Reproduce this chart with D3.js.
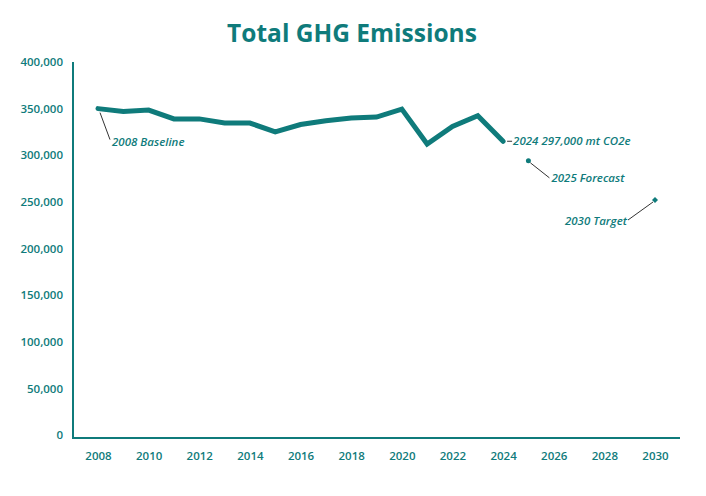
<!DOCTYPE html>
<html>
<head>
<meta charset="utf-8">
<script src="https://cdn.jsdelivr.net/npm/d3@7"></script>
<style>
  body { margin: 0; background: #fff; }
  svg text { font-family: "Open Sans", "Noto Sans", sans-serif; }
</style>
</head>
<body>
<svg id="chart" width="706" height="496"></svg>
<script>
  var years = [2008, 2009, 2010, 2011, 2012, 2013, 2014, 2015, 2016,
               2017, 2018, 2019, 2020, 2021, 2022, 2023, 2024];
  var emissions = [350000, 347000, 348500, 339000, 339000, 334500, 334500, 325000, 333000,
                   337000, 340000, 341000, 349500, 312000, 331000, 342500, 315000];
  var forecastYear = [2025], forecastValue = [294000];
  var targetYear = [2030], targetValue = [252000];
  var yTicks = [0, 50000, 100000, 150000, 200000, 250000, 300000, 350000, 400000];
  var xTicks = [2008, 2010, 2012, 2014, 2016, 2018, 2020, 2022, 2024, 2026, 2028, 2030];

  var teal = '#0f7b7b',
      leader = '#333';

  var svg = d3.select('#chart');

  var x = d3.scaleLinear()
    .domain([2008, 2030])
    .range([98, 655]);
  var y = d3.scaleLinear()
    .domain([0, 400000])
    .range([435, 62]);

  svg.append('text')
    .attr('x', 352)
    .attr('y', 42)
    .attr('text-anchor', 'middle')
    .attr('fill', teal)
    .attr('font-size', 24.5)
    .attr('font-weight', 'bold')
    .text('Total GHG Emissions');

  // tick labels come from d3 axes, the axis lines are one path
  var yAxis = d3.axisLeft(y)
    .tickValues(yTicks)
    .tickSize(0)
    .tickPadding(10)
    .tickFormat(d3.format(','));
  svg.append('g')
    .attr('transform', 'translate(73,0)')
    .call(yAxis)
    .call(function(g) {
      g.select('.domain').remove();
      g.selectAll('text')
        .attr('fill', teal)
        .attr('font-size', 11.5)
        .attr('font-weight', 600)
        .attr('font-family', '"Open Sans", sans-serif');
    });

  var xAxis = d3.axisBottom(x)
    .tickValues(xTicks)
    .tickSize(0)
    .tickPadding(14)
    .tickFormat(d3.format('d'));
  svg.append('g')
    .attr('transform', 'translate(0,438)')
    .call(xAxis)
    .call(function(g) {
      g.select('.domain').remove();
      g.selectAll('text')
        .attr('fill', teal)
        .attr('font-size', 11.5)
        .attr('font-weight', 600)
        .attr('font-family', '"Open Sans", sans-serif');
    });

  svg.append('path')
    .attr('d', 'M73,62V438H680')
    .attr('fill', 'none')
    .attr('stroke', teal)
    .attr('stroke-width', 2);

  var data = years.map(function(d, i) {
    return { year: d, value: emissions[i] };
  });

  var line = d3.line()
    .x(function(d) { return x(d.year); })
    .y(function(d) { return y(d.value); });

  svg.append('path')
    .datum(data)
    .attr('d', line)
    .attr('fill', 'none')
    .attr('stroke', teal)
    .attr('stroke-width', 5)
    .attr('stroke-linejoin', 'miter')
    .attr('stroke-linecap', 'round');

  // forecast dot and target marker
  svg.append('circle')
    .attr('cx', x(forecastYear[0]))
    .attr('cy', y(forecastValue[0]))
    .attr('r', 2.5)
    .attr('fill', teal);
  svg.append('path')
    .attr('d', d3.symbol().type(d3.symbolSquare).size(18))
    .attr('transform', 'translate(' + x(targetYear[0]) + ',' + y(targetValue[0]) + ') rotate(45)')
    .attr('fill', teal);

  // annotations
  function note(x1, y1, x2, y2, tx, ty, anchor, label) {
    svg.append('line')
      .attr('x1', x1).attr('y1', y1)
      .attr('x2', x2).attr('y2', y2)
      .attr('stroke', leader)
      .attr('stroke-width', 1);
    svg.append('text')
      .attr('x', tx)
      .attr('y', ty)
      .attr('text-anchor', anchor)
      .attr('fill', teal)
      .attr('font-size', 11.5)
      .attr('font-style', 'italic')
      .attr('font-weight', 600)
      .text(label);
  }

  var bx = x(2008), by = y(emissions[0]);
  note(bx + 2, by + 4, bx + 12, by + 31, bx + 14, by + 37, 'start', '2008 Baseline');

  var lx = x(2024), ly = y(emissions[emissions.length - 1]);
  note(lx + 4, ly, lx + 9, ly, lx + 10, ly + 4, 'start', '2024 297,000 mt CO2e');

  var fx = x(forecastYear[0]), fy = y(forecastValue[0]);
  note(fx + 2, fy + 2, fx + 21, fy + 17, fx + 23, fy + 21, 'start', '2025 Forecast');

  var gx = x(targetYear[0]), gy = y(targetValue[0]);
  note(gx - 2, gy + 2, gx - 27, gy + 20, gx - 28, gy + 25, 'end', '2030 Target');
</script>
</body>
</html>
